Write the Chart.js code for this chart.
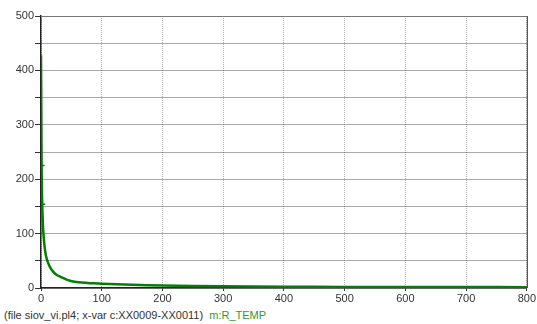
<!DOCTYPE html>
<html>
<head>
<meta charset="utf-8">
<script src="https://cdn.jsdelivr.net/npm/chart.js@4/dist/chart.umd.min.js"></script>
<style>
  body { margin: 0; background: #fff; }
  #wrap { position: relative; width: 537px; height: 306px; }
  #foot { position: absolute; left: 4px; top: 309px; font: 11px "Liberation Sans", Arial, sans-serif; color: #333; white-space: pre; }
  #foot span { color: #2e9a2e; }
</style>
</head>
<body>
<div id="wrap"><canvas id="c"></canvas></div>
<div id="foot">(file siov_vi.pl4; x-var c:XX0009-XX0011)  <span>m:R_TEMP</span></div>
<script>
// ── Datos ───────────────────────────────────────────
const tiempo = [0, 0.5, 1, 1.5, 2, 3, 4, 6, 8, 11, 15, 20, 26, 33, 43, 58, 85, 100, 150, 200, 300, 400, 500, 600, 700, 800];
const rTemp  = [428, 330, 225, 180, 154, 120, 100, 75, 60, 48, 38, 30, 24, 20, 15, 11, 8.6, 8, 6, 4.5, 3, 2.5, 2, 2, 1.8, 1.5];
const marcas = [2, 4];   // índices con marcador
const xTicks = [0, 100, 200, 300, 400, 500, 600, 700, 800];

const fuente = { family: '"Liberation Sans", Arial, sans-serif', size: 11 };

// marco del área de trazado
const marco = {
  id: 'marco',
  afterDraw(chart) {
    const { ctx, chartArea: a } = chart;
    ctx.save();
    ctx.strokeStyle = '#777'; ctx.lineWidth = 1;
    ctx.beginPath(); ctx.moveTo(a.left, a.top + 0.5); ctx.lineTo(a.right, a.top + 0.5); ctx.stroke();
    ctx.strokeStyle = '#333';
    ctx.beginPath(); ctx.moveTo(a.right + 0.5, a.top); ctx.lineTo(a.right + 0.5, a.bottom); ctx.stroke();
    ctx.restore();
  }
};

new Chart(document.getElementById('c').getContext('2d'), {
  type: 'line',
  data: {
    datasets: [{
      label: 'm:R_TEMP',
      data: tiempo.map((t, i) => ({ x: t, y: rTemp[i] })),
      borderColor: '#008000', borderWidth: 2.5,
      tension: 0.3, fill: false,
      pointStyle: 'line',
      pointRadius: c => marcas.includes(c.dataIndex) ? 3 : 0,
      pointBorderColor: '#008000', pointBorderWidth: 1.5,
    }]
  },
  options: {
    responsive: true, maintainAspectRatio: false, animation: false,
    layout: { padding: { top: 16, right: 9, left: 0, bottom: 0 } },
    plugins: { legend: { display: false }, tooltip: { enabled: false } },
    scales: {
      x: {
        type: 'linear', min: 0, max: 800,
        afterBuildTicks: s => { s.ticks = xTicks.map(v => ({ value: v })); },
        afterFit: s => { s.height = 18; },
        grid: { color: '#b0b0b0', tickColor: '#333', tickLength: 3 },
        border: { color: '#222', width: 1.5, dash: [1, 1] },
        ticks: { color: '#333', font: fuente, padding: 1, maxRotation: 0 }
      },
      y: {
        min: 0, max: 500,
        afterFit: s => { s.width = 41; },
        grid: { color: '#555', tickColor: '#333', tickLength: 6 },
        border: { color: '#222', width: 1.5, dash: [1, 1] },
        ticks: { stepSize: 50, color: '#333', font: fuente, padding: 1,
                 callback: v => v % 100 === 0 ? v : '' }
      }
    }
  },
  plugins: [marco]
});
</script>
</body>
</html>
